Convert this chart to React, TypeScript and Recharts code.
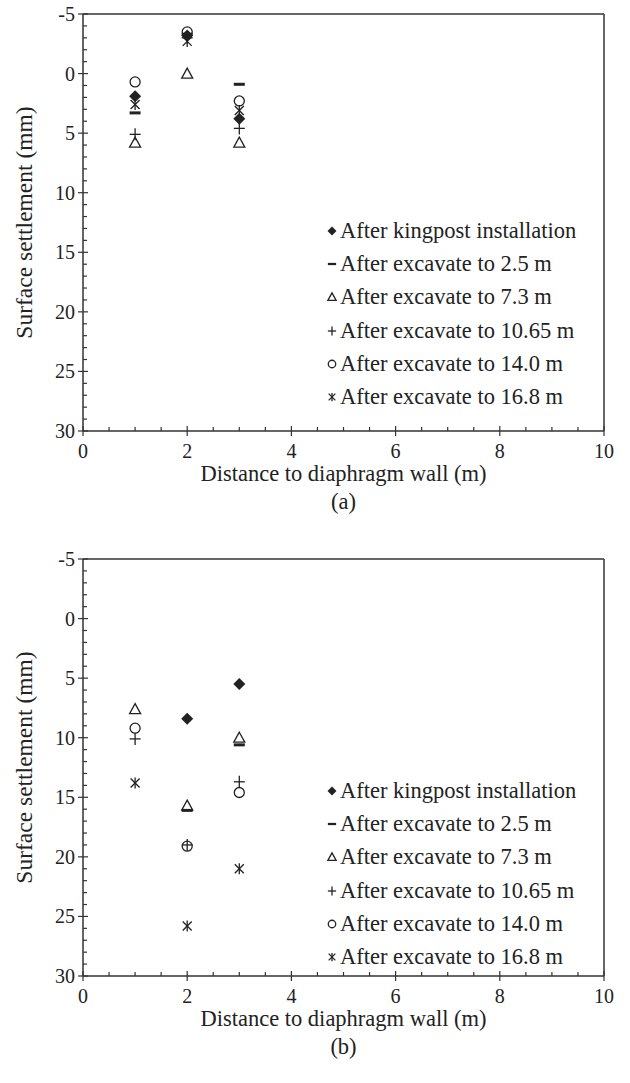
import { ScatterChart, Scatter, XAxis, YAxis, ReferenceLine, Legend, Label } from 'recharts';

const FONT = '"Liberation Serif", "Times New Roman", serif';
const INK = '#222';
const AXIS = '#333';

const distance = [1, 2, 3];

const stageNames = [
  'After kingpost installation',
  'After excavate to 2.5 m',
  'After excavate to 7.3 m',
  'After excavate to 10.65 m',
  'After excavate to 14.0 m',
  'After excavate to 16.8 m',
];
const markerKinds = ['diamond', 'dash', 'triangle', 'plus', 'circle', 'asterisk'];

// settlement (mm) at 1, 2, 3 m from the wall, panel (a)
const kingpostA = [1.9, -3.2, 3.8];
const exc25A = [3.3, -3.3, 0.9];
const exc73A = [5.8, 0.0, 5.8];
const exc1065A = [5.1, -3.0, 4.6];
const exc140A = [0.7, -3.5, 2.3];
const exc168A = [2.6, -2.7, 3.1];

// panel (b); null = no reading
const kingpostB = [null, 8.4, 5.5];
const exc25B = [null, 16.1, 10.6];
const exc73B = [7.6, 15.7, 10.0];
const exc1065B = [10.1, 19.0, 13.7];
const exc140B = [9.2, 19.1, 14.6];
const exc168B = [13.8, 25.8, 21.0];

const xTicks = Array.from({ length: 21 }, (_, i) => i * 0.5);
const yTicks = Array.from({ length: 36 }, (_, i) => i - 5);

function marker(kind: string, cx: number, cy: number, s = 1) {
  const sw = 1.3;
  switch (kind) {
    case 'diamond':
      return (
        <polygon
          points={`${cx},${cy - 6 * s} ${cx + 6 * s},${cy} ${cx},${cy + 6 * s} ${cx - 6 * s},${cy}`}
          fill={INK}
        />
      );
    case 'dash':
      return <rect x={cx - 5.5 * s} y={cy - 1.5 * s} width={11 * s} height={3 * s} fill={INK} />;
    case 'triangle':
      return (
        <polygon
          points={`${cx},${cy - 5.5 * s} ${cx + 5.5 * s},${cy + 4.5 * s} ${cx - 5.5 * s},${cy + 4.5 * s}`}
          fill="none"
          stroke={INK}
          strokeWidth={sw}
        />
      );
    case 'plus':
      return (
        <g stroke={INK} strokeWidth={sw}>
          <line x1={cx - 5.5 * s} y1={cy} x2={cx + 5.5 * s} y2={cy} />
          <line x1={cx} y1={cy - 6 * s} x2={cx} y2={cy + 6 * s} />
        </g>
      );
    case 'circle':
      return <circle cx={cx} cy={cy} r={5 * s} fill="none" stroke={INK} strokeWidth={sw} />;
    default:
      return (
        <g stroke={INK} strokeWidth={sw}>
          <line x1={cx - 4.5 * s} y1={cy - 4.5 * s} x2={cx + 4.5 * s} y2={cy + 4.5 * s} />
          <line x1={cx - 4.5 * s} y1={cy + 4.5 * s} x2={cx + 4.5 * s} y2={cy - 4.5 * s} />
          <line x1={cx} y1={cy - 5.5 * s} x2={cx} y2={cy + 5.5 * s} />
        </g>
      );
  }
}

function XTick({ x, y, payload }: any) {
  const v = payload.value;
  const major = Number.isInteger(v) && v % 2 === 0;
  return (
    <g>
      <line x1={x} x2={x} y1={y - (major ? 5 : 4)} y2={major ? y + 5 : y} stroke={AXIS} strokeWidth={1.2} />
      {major && (
        <text x={x} y={y + 27} textAnchor="middle" fontFamily={FONT} fontSize={20} fill={INK}>
          {v}
        </text>
      )}
    </g>
  );
}

function YTick({ x, y, payload }: any) {
  const v = payload.value;
  const major = v % 5 === 0;
  return (
    <g>
      <line x1={major ? x - 5 : x} x2={x + (major ? 5 : 4)} y1={y} y2={y} stroke={AXIS} strokeWidth={1.2} />
      {major && (
        <text x={x - 8} y={y + 7} textAnchor="end" fontFamily={FONT} fontSize={20} fill={INK}>
          {v}
        </text>
      )}
    </g>
  );
}

function StageLegend() {
  return (
    <div style={{ fontFamily: FONT, fontSize: 22.5, color: INK }}>
      {stageNames.map((name, i) => (
        <div key={name} style={{ display: 'flex', alignItems: 'center', height: 33.3 }}>
          <svg width={14} height={14} style={{ marginRight: 1 }}>
            {marker(markerKinds[i], 7, 7, 0.75)}
          </svg>
          <span>{name}</span>
        </div>
      ))}
    </div>
  );
}

function Panel({ series, tag, legendTop }: { series: (number | null)[][]; tag: string; legendTop: number }) {
  return (
    <ScatterChart width={630} height={538} margin={{ top: 14, right: 26, bottom: 0, left: 0 }}>
      <XAxis
        type="number"
        dataKey="x"
        domain={[0, 10]}
        ticks={xTicks}
        interval={0}
        tickSize={0}
        tickMargin={0}
        tickLine={false}
        tick={<XTick />}
        height={107}
        axisLine={{ stroke: AXIS, strokeWidth: 1.5 }}
      >
        <Label
          content={({ viewBox }: any) => (
            <g fontFamily={FONT} fill={INK} textAnchor="middle" fontSize={22.5}>
              <text x={viewBox.x + viewBox.width / 2} y={viewBox.y + 50}>
                Distance to diaphragm wall (m)
              </text>
              <text x={viewBox.x + viewBox.width / 2} y={viewBox.y + 78}>
                {tag}
              </text>
            </g>
          )}
        />
      </XAxis>
      <YAxis
        type="number"
        dataKey="y"
        domain={[-5, 30]}
        reversed
        ticks={yTicks}
        interval={0}
        tickSize={0}
        tickMargin={0}
        tickLine={false}
        tick={<YTick />}
        width={83}
        axisLine={{ stroke: AXIS, strokeWidth: 1.5 }}
      >
        <Label
          content={({ viewBox }: any) => {
            const cx = 24;
            const cy = viewBox.y + viewBox.height / 2;
            return (
              <text
                x={cx}
                y={cy}
                transform={`rotate(-90 ${cx} ${cy})`}
                textAnchor="middle"
                dominantBaseline="central"
                fontFamily={FONT}
                fontSize={23.5}
                fill={INK}
              >
                Surface settlement (mm)
              </text>
            );
          }}
        />
      </YAxis>
      <ReferenceLine y={-5} stroke={AXIS} strokeWidth={1.5} />
      <ReferenceLine x={10} stroke={AXIS} strokeWidth={1.5} />
      {series.map((values, i) => {
        const points = distance
          .map((d, j) => ({ x: d, y: values[j] }))
          .filter((p) => p.y !== null);
        return (
          <Scatter
            key={stageNames[i]}
            name={stageNames[i]}
            data={points}
            fill={INK}
            isAnimationActive={false}
            shape={(p: any) => marker(markerKinds[i], p.cx, p.cy)}
          />
        );
      })}
      {/* vertical + centred keeps the legend from taking space off the plot */}
      <Legend
        layout="vertical"
        align="center"
        verticalAlign="middle"
        content={() => <StageLegend />}
        wrapperStyle={{ left: 325, top: legendTop, width: 290, bottom: 'auto' }}
      />
    </ScatterChart>
  );
}

export default function App() {
  return (
    <div style={{ position: 'absolute', left: 0, top: 0, width: 630, height: 1083, background: '#fff' }}>
      <Panel series={[kingpostA, exc25A, exc73A, exc1065A, exc140A, exc168A]} tag="(a)" legendTop={214} />
      <div style={{ height: 7 }} />
      <Panel series={[kingpostB, exc25B, exc73B, exc1065B, exc140B, exc168B]} tag="(b)" legendTop={229} />
    </div>
  );
}
